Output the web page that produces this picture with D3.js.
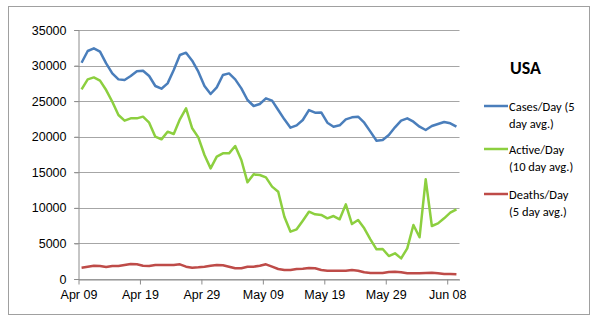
<!DOCTYPE html>
<html><head><meta charset="utf-8">
<script src="https://cdn.jsdelivr.net/npm/d3@7"></script>
<style>body{margin:0;background:#fff}svg{display:block;font-family:Carlito,Lato,"Open Sans",sans-serif}</style>
</head><body><div id="chart"></div>
<script>
const startDate = "2020-04-09";
const tickLabels = ["Apr 09","Apr 19","Apr 29","May 09","May 19","May 29","Jun 08"];
const yTicks = [0,5000,10000,15000,20000,25000,30000,35000];
const seriesNames = ["Cases/Day (5|day avg.)","Active/Day|(10 day avg.)","Deaths/Day|(5 day avg.)"];
const seriesColors = ["#4a7ebb","#8ccf3f","#be4b48"];
const cases = [30400,32050,32420,31950,30300,28900,28060,27970,28530,29190,29280,28530,27130,26750,27500,29380,31480,31810,30690,29140,27130,26000,26940,28670,28900,28060,26800,25160,24320,24600,25390,25070,23750,22440,21270,21600,22350,23750,23380,23420,21970,21410,21600,22440,22720,22820,21970,20710,19440,19540,20240,21320,22250,22580,22110,21410,20940,21500,21790,22070,21880,21410];
const active = [26660,28060,28340,27880,26560,24920,23050,22250,22580,22580,22820,21970,20000,19630,20710,20380,22440,23990,21180,19910,17430,15550,17190,17660,17660,18700,16730,13590,14710,14620,14290,12980,12270,8760,6650,6980,8200,9460,9090,9000,8530,8850,8390,10490,7730,8290,7120,5580,4170,4220,3230,3610,2900,4310,7590,5860,14010,7450,7820,8530,9320,9790];
const deaths = [1590,1730,1870,1830,1690,1830,1830,1970,2110,2060,1870,1830,1970,1970,1970,1970,2060,1730,1590,1640,1730,1870,1970,1920,1730,1500,1500,1730,1730,1870,2060,1730,1410,1260,1260,1410,1450,1550,1500,1260,1170,1170,1170,1170,1260,1170,940,840,840,840,980,1030,940,800,800,800,840,890,800,700,700,660];

const W=600,H=324;
const svg=d3.select("#chart").append("svg").attr("width",W).attr("height",H);
svg.append("rect").attr("x",8.5).attr("y",6.5).attr("width",581).attr("height",308)
  .attr("fill","#fff").attr("stroke","#a0a0a0").attr("stroke-width",1);

const d0=new Date(startDate+"T00:00:00Z");
const day=86400000;
const dates=cases.map((_,i)=>new Date(d0.getTime()+i*day+day/2));
const x=d3.scaleUtc().domain([d0,new Date(d0.getTime()+62*day)]).range([78.5,459.5]);
const y=d3.scaleLinear().domain([0,35000]).range([279,30]);

// gridlines
svg.append("g").selectAll("line").data(yTicks).join("line")
  .attr("x1",74).attr("x2",459.5).attr("y1",d=>Math.round(y(d))+0.5).attr("y2",d=>Math.round(y(d))+0.5)
  .attr("stroke","#a6a6a6").attr("stroke-width",1.2);

// y axis
const yAxis=svg.append("g").attr("transform","translate(78.5,0)")
  .call(d3.axisLeft(y).tickValues(yTicks).tickFormat(d3.format("d")).tickSize(4).tickPadding(8));
yAxis.select(".domain").attr("stroke","#8c8c8c");
yAxis.selectAll(".tick line").attr("stroke","#8c8c8c");
yAxis.selectAll("text").attr("font-size",12.5).attr("fill","#000");

// x axis
const tickDates=tickLabels.map((_,i)=>new Date(d0.getTime()+i*10*day));
const xAxis=svg.append("g").attr("transform","translate(0,279.5)")
  .call(d3.axisBottom(x).tickValues(tickDates).tickFormat((d,i)=>tickLabels[i]).tickSize(5).tickPadding(6).tickSizeOuter(0));
xAxis.select(".domain").attr("stroke","#8c8c8c");
xAxis.selectAll(".tick line").attr("stroke","#8c8c8c");
xAxis.selectAll("text").attr("font-size",12.5).attr("fill","#000");

const line=d3.line().x((d,i)=>x(dates[i])).y(d=>y(d));
[cases,active,deaths].forEach((s,k)=>{
  svg.append("path").datum(s).attr("d",line).attr("fill","none")
    .attr("stroke",seriesColors[k]).attr("stroke-width",2.5).attr("stroke-linejoin","round");
});

// legend
svg.append("text").attr("x",510).attr("y",74).attr("font-size",18).attr("font-weight","bold").text("USA");
const ly=[106,149,194];
seriesNames.forEach((n,k)=>{
  svg.append("line").attr("x1",484).attr("x2",508).attr("y1",ly[k]).attr("y2",ly[k])
    .attr("stroke",seriesColors[k]).attr("stroke-width",2.5);
  const parts=n.split("|");
  parts.forEach((p,j)=>{
    svg.append("text").attr("x",509).attr("y",ly[k]+4.5+j*17).attr("font-size",12.5).text(p);
  });
});
</script></body></html>
